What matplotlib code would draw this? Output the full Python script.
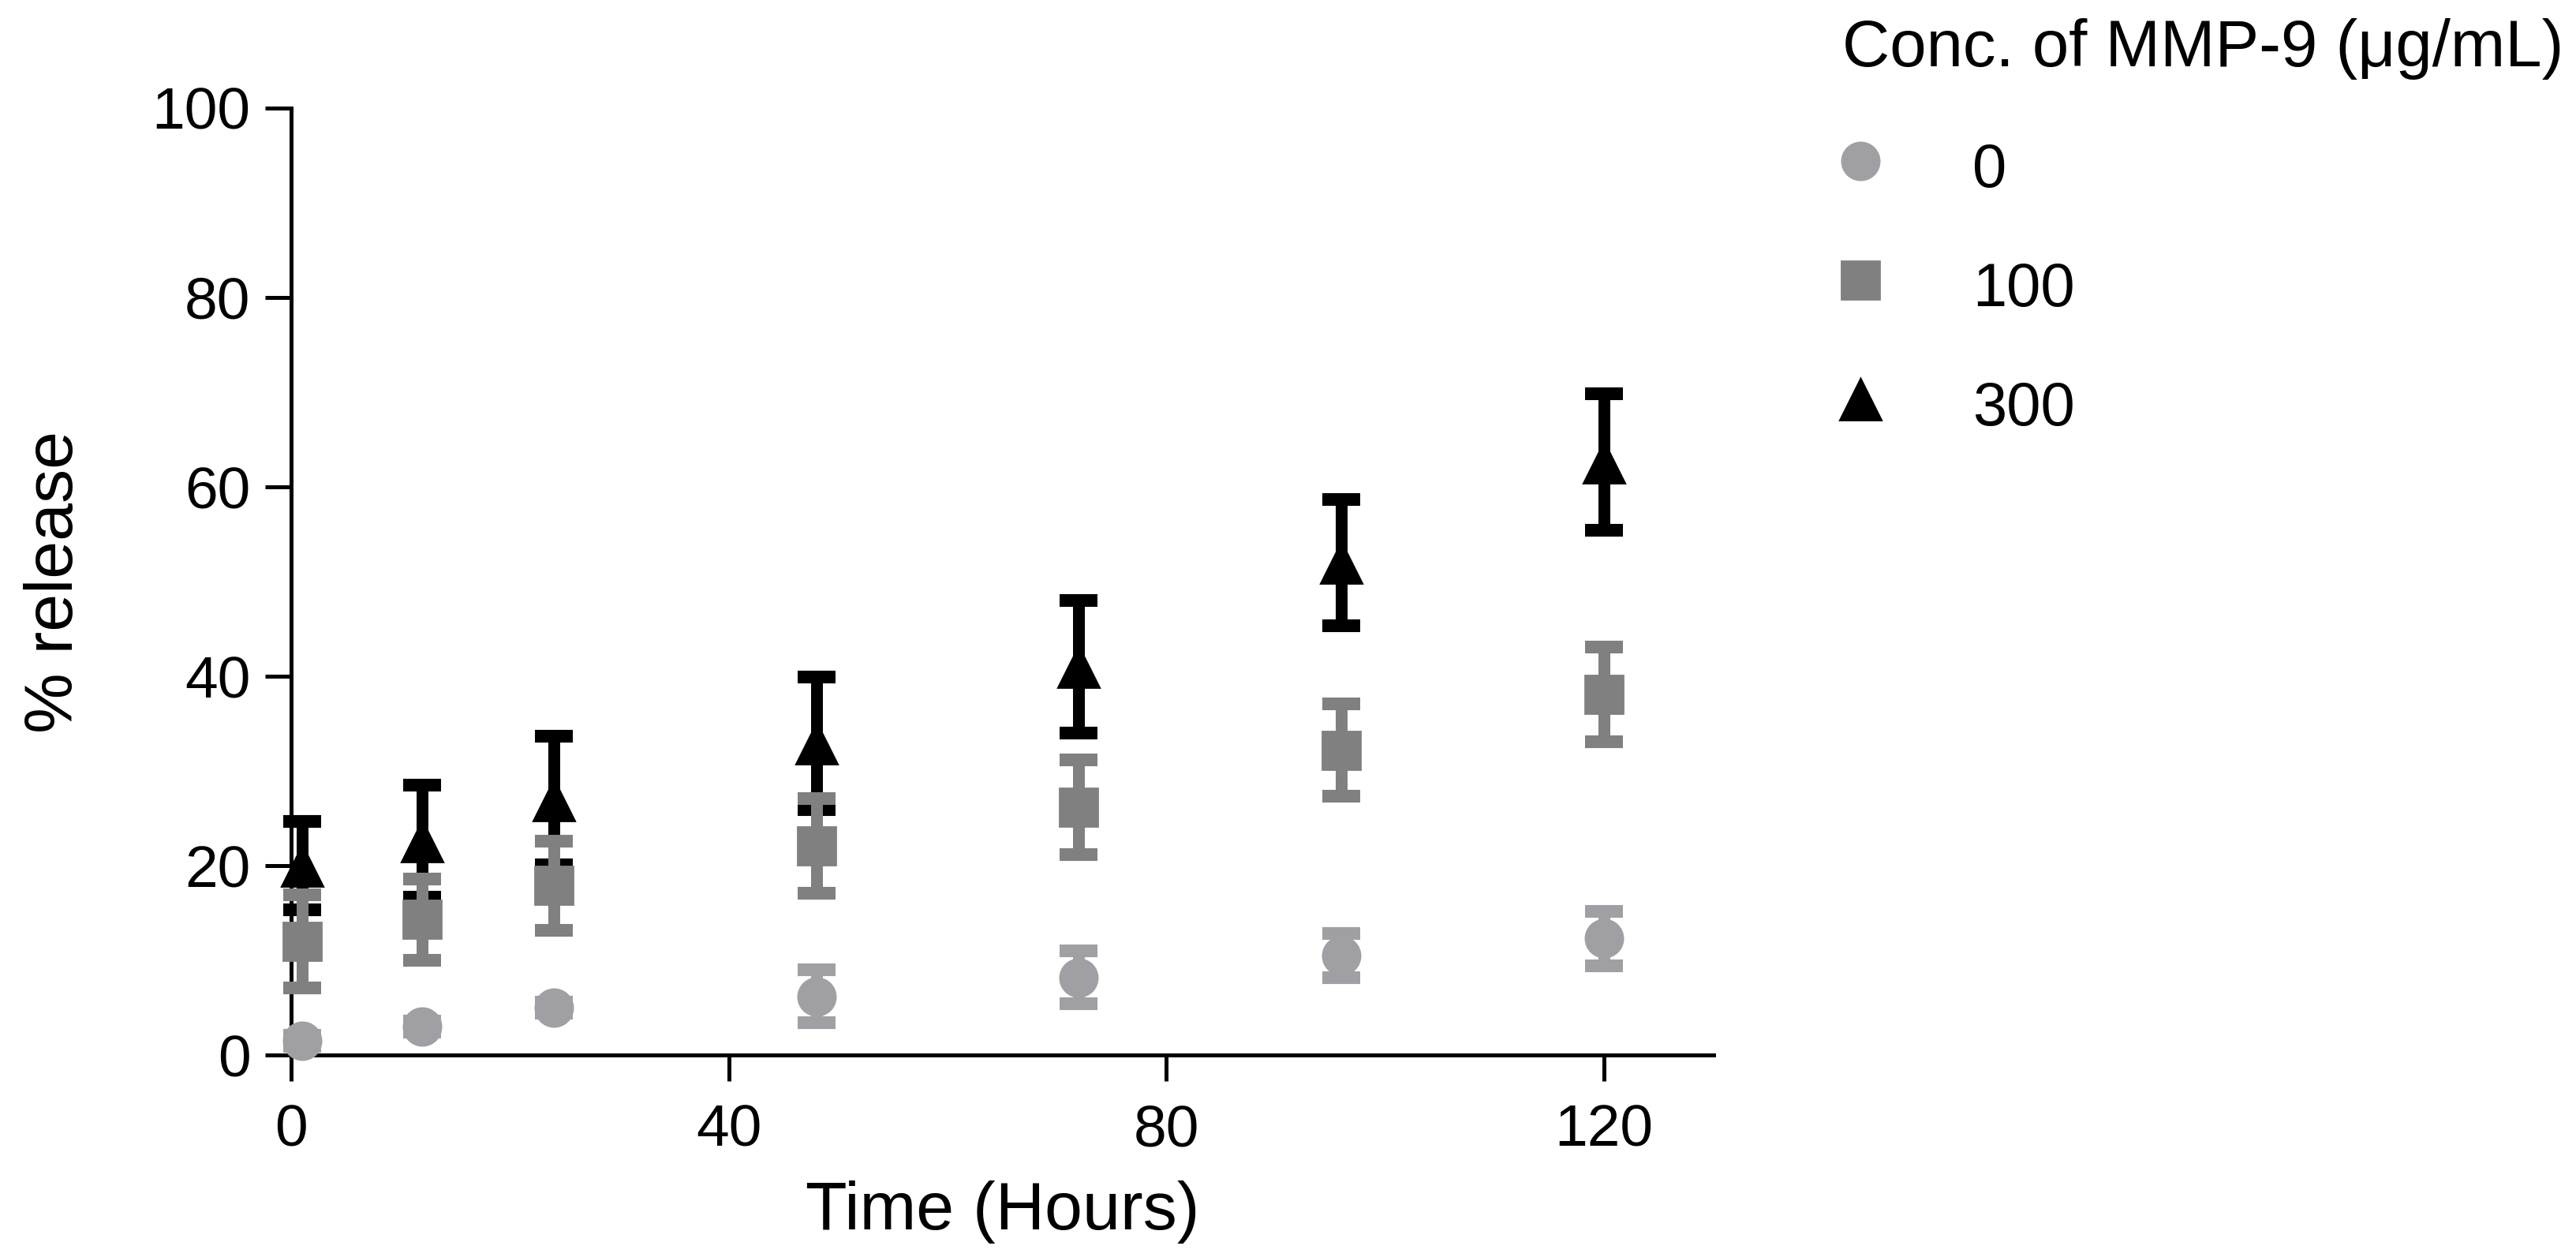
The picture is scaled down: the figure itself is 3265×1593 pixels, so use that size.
import matplotlib
matplotlib.use("Agg")
import matplotlib.pyplot as plt
from matplotlib.lines import Line2D

plt.rcParams['font.family'] = ['Liberation Sans', 'DejaVu Sans']

# Data (mean, error)
hours = [1, 12, 24, 48, 72, 96, 120]
conc_labels = ["0", "100", "300"]

rel_0 = [1.5, 3.0, 5.0, 6.2, 8.2, 10.5, 12.3]
err_0 = [0.6, 0.6, 0.6, 2.8, 2.8, 2.3, 2.9]
rel_100 = [12.0, 14.3, 17.9, 22.1, 26.2, 32.2, 38.1]
err_100 = [4.9, 4.3, 4.7, 5.0, 5.0, 4.9, 5.0]
rel_300 = [20.0, 22.6, 26.9, 32.9, 41.0, 52.0, 62.6]
err_300 = [4.7, 5.9, 6.8, 7.0, 7.0, 6.7, 7.2]

x_ticks = [0, 40, 80, 120]
y_ticks = [0, 20, 40, 60, 80, 100]

col_0 = "#a0a0a4"
col_100 = "#808080"
col_300 = "#000000"

W, H = 3265, 1593
fig = plt.figure(figsize=(W / 200, H / 200), dpi=200)
ax = fig.add_axes([0.1130, 0.1607, 0.5522, 0.7533])

# draw 300 first, then 100, then 0 on top
series = [
    (rel_300, err_300, "^", 18.5, col_300, 3),
    (rel_100, err_100, "s", 17.3, col_100, 4),
    (rel_0, err_0, "o", 17, col_0, 5),
]
for vals, errs, mk, ms, col, z in series:
    ax.errorbar(hours, vals, yerr=errs, fmt=mk, ms=ms, color=col, mec=col,
                ecolor=col, elinewidth=5.4, capsize=8.6, capthick=5.8,
                zorder=z, clip_on=False)

ax.set_xlim(0, 130)
ax.set_ylim(0, 100)
ax.set_xticks(x_ticks)
ax.set_yticks(y_ticks)

for side in ["top", "right"]:
    ax.spines[side].set_visible(False)
for side in ["left", "bottom"]:
    ax.spines[side].set_linewidth(1.8)

ax.tick_params(axis="both", width=1.8, length=12, labelsize=27, direction="out")
ax.tick_params(axis="x", pad=10)
ax.tick_params(axis="y", pad=6.5)

ax.set_xlabel("Time (Hours)", fontsize=31)
ax.set_ylabel("% release", fontsize=31)
ax.xaxis.set_label_coords(0.5, -0.1325)
ax.yaxis.set_label_coords(-0.1436, 0.5)

# legend (title drawn as its own text)
fig.text(2335 / W, 1 - 84 / H, "Conc. of MMP-9 (\u03bcg/mL)", fontsize=30,
         ha="left", va="baseline")
handles = [
    Line2D([], [], ls="none", marker="o", ms=17, color=col_0),
    Line2D([], [], ls="none", marker="s", ms=17.3, color=col_100),
    Line2D([], [], ls="none", marker="^", ms=18.5, color=col_300),
]
ax.legend(handles, conc_labels, loc="upper left",
          bbox_to_anchor=(2331 / W, 1 - 171 / H),
          bbox_transform=fig.transFigure, frameon=False, fontsize=28,
          borderpad=0, borderaxespad=0, handlelength=0.7, handleheight=1.2,
          handletextpad=1.47, labelspacing=0.885)

fig.savefig("out.png", dpi=200)
